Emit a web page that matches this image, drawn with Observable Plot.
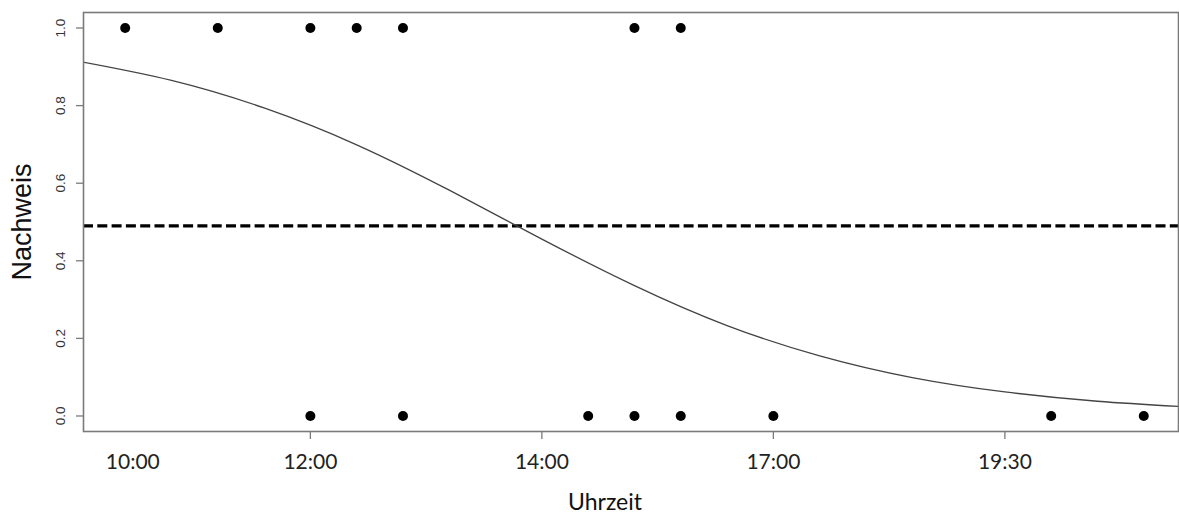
<!DOCTYPE html>
<html>
<head>
<meta charset="utf-8">
<script src="https://cdn.jsdelivr.net/npm/d3@7"></script>
<script src="https://cdn.jsdelivr.net/npm/@observablehq/plot@0.6"></script>
<style>
  html, body { margin: 0; padding: 0; background: #fff; }
  #chart svg { display: block; }
</style>
</head>
<body>
<div id="chart"></div>
<script>
// Observations: time as fraction of a day, detection (1 = yes, 0 = no)
const obsTime = [0.42, 0.46, 0.50, 0.52, 0.54, 0.64, 0.66,
                 0.50, 0.54, 0.62, 0.64, 0.66, 0.70, 0.82, 0.86];
const obsDetect = [1, 1, 1, 1, 1, 1, 1,
                   0, 0, 0, 0, 0, 0, 0, 0];

// Fitted curve
const curveTime = [0.40, 0.44, 0.48, 0.52, 0.56, 0.60, 0.64, 0.68, 0.72, 0.76, 0.80, 0.84, 0.88];
const curveProb = [0.914, 0.865, 0.794, 0.699, 0.582, 0.456, 0.336, 0.233, 0.155, 0.099, 0.062, 0.038, 0.023];

// Threshold line
const threshold = [0.49];

// Axes
const xTickValues = [0.5, 0.6, 0.7, 0.8];
const xLabelPos = [0.4233, 0.5, 0.6, 0.7, 0.8];
const xLabelText = ["10:00", "12:00", "14:00", "17:00", "19:30"];
const yTickValues = [0, 0.2, 0.4, 0.6, 0.8, 1.0];
const yTickText = ["0.0", "0.2", "0.4", "0.6", "0.8", "1.0"];
const xTitle = "Uhrzeit";
const yTitle = "Nachweis";

const points = obsTime.map((t, i) => ({t, d: obsDetect[i]}));
const curve = curveTime.map((t, i) => ({t, p: curveProb[i]}));
const xLabels = xLabelPos.map((t, i) => ({t, s: xLabelText[i]}));
const yLabels = yTickValues.map((v, i) => ({v, s: yTickText[i]}));

const chart = Plot.plot({
  width: 1179,
  height: 516,
  marginTop: 12,
  marginBottom: 85,
  marginLeft: 83,
  marginRight: 1,
  style: {background: "#fff"},
  x: {domain: [0.402, 0.875], axis: null},
  y: {domain: [-0.04, 1.04], axis: null},
  marks: [
    Plot.ruleY(threshold, {stroke: "#000", strokeWidth: 3.2, strokeDasharray: "10,4.3"}),
    Plot.line(curve, {x: "t", y: "p", curve: "natural", stroke: "#444", strokeWidth: 1.3, clip: true}),
    Plot.dot(points, {x: "t", y: "d", r: 5, fill: "#000", stroke: "none"}),
    Plot.frame({stroke: "#7a7a7a", strokeWidth: 1.6}),
    // y ticks
    Plot.axisY({ticks: yTickValues, tickSize: 7, tickFormat: () => "", stroke: "#7a7a7a", strokeWidth: 1.3, label: null}),
    Plot.text(yLabels, {y: "v", text: "s", frameAnchor: "left", dx: -23, rotate: -90,
      textAnchor: "middle", lineAnchor: "middle", fontFamily: "Liberation Sans, Arial, sans-serif",
      fontSize: 13.5, fill: "#333"}),
    // x ticks
    Plot.axisX({ticks: xTickValues, tickSize: 8, tickFormat: () => "", stroke: "#7a7a7a", strokeWidth: 1.3, label: null}),
    Plot.text(xLabels, {x: "t", text: "s", frameAnchor: "bottom", dy: 31,
      textAnchor: "middle", lineAnchor: "middle", fontFamily: "Lato, 'Open Sans', sans-serif",
      fontSize: 21, fill: "#222"}),
    // titles
    Plot.text([xTitle], {frameAnchor: "bottom", dx: -26, dy: 71, textAnchor: "middle", lineAnchor: "middle",
      fontFamily: "Lato, 'Open Sans', sans-serif", fontSize: 23, fill: "#111"}),
    Plot.text([yTitle], {frameAnchor: "left", dx: -61, rotate: -90, textAnchor: "middle", lineAnchor: "middle",
      fontFamily: "Liberation Sans, Arial, sans-serif", fontSize: 27, fill: "#111"})
  ]
});
document.getElementById("chart").appendChild(chart);
</script>
</body>
</html>
